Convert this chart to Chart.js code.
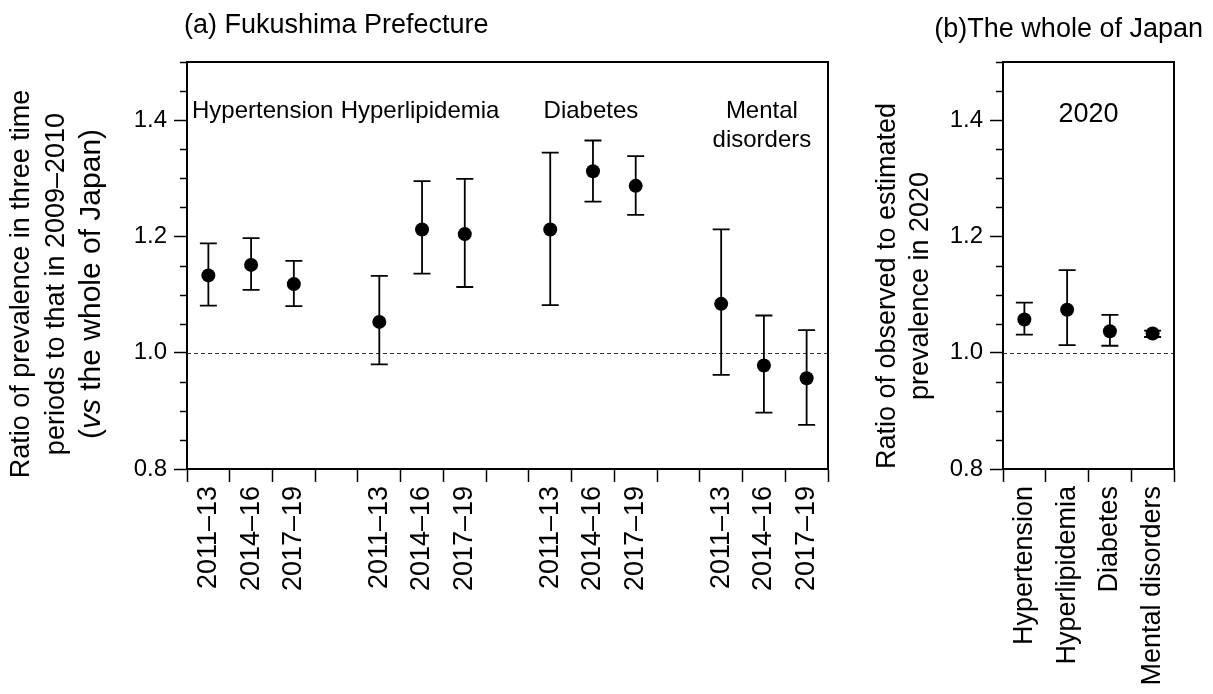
<!DOCTYPE html>
<html>
<head>
<meta charset="utf-8">
<script src="https://cdn.jsdelivr.net/npm/chart.js@4.4.1/dist/chart.umd.min.js"></script>
<style>
  html, body { margin: 0; padding: 0; background: #fff; }
  #wrap { position: relative; width: 1213px; height: 694px; overflow: hidden; }
  canvas { position: absolute; top: 0; }
  #chartA { left: 0; }
  #chartB { left: 860px; }
</style>
</head>
<body>
<div id="wrap">
  <canvas id="chartA" width="860" height="694"></canvas>
  <canvas id="chartB" width="353" height="694"></canvas>
</div>
<script>
const groups = ['Hypertension', 'Hyperlipidemia', 'Diabetes', 'Mental disorders']
const groupLabelLines = [['Hypertension'], ['Hyperlipidemia'], ['Diabetes'], ['Mental', 'disorders']]
const periods = ['2011–13', '2014–16', '2017–19']

// (a) Fukushima: ratio to 2009-2010 (vs whole of Japan), point + CI
const hypertension = [1.133, 1.151, 1.118]
const hypertensionLow = [1.081, 1.108, 1.080]
const hypertensionHigh = [1.188, 1.197, 1.158]

const hyperlipidemia = [1.053, 1.212, 1.204]
const hyperlipidemiaLow = [0.980, 1.136, 1.113]
const hyperlipidemiaHigh = [1.132, 1.295, 1.299]

const diabetes = [1.212, 1.312, 1.287]
const diabetesLow = [1.082, 1.260, 1.237]
const diabetesHigh = [1.344, 1.365, 1.338]

const mental = [1.084, 0.978, 0.956]
const mentalLow = [0.962, 0.897, 0.876]
const mentalHigh = [1.212, 1.064, 1.039]

// (b) whole of Japan: observed / estimated in 2020
const japan2020 = [1.057, 1.074, 1.037, 1.033]
const japan2020Low = [1.031, 1.013, 1.012, 1.027]
const japan2020High = [1.086, 1.142, 1.065, 1.038]

const yMajorTicks = [0.8, 1.0, 1.2, 1.4]
const yMin = 0.8, yMax = 1.5, yMinorStep = 0.05
const refValue = 1.0

// build the 15-slot category axis for panel (a), empty slot between groups
const seriesA = [
    [hypertension, hypertensionLow, hypertensionHigh],
    [hyperlipidemia, hyperlipidemiaLow, hyperlipidemiaHigh],
    [diabetes, diabetesLow, diabetesHigh],
    [mental, mentalLow, mentalHigh]
]
const labelsA = [], valuesA = [], lowA = [], highA = [], groupMid = []
seriesA.forEach(([v, lo, hi], g) => {
    if (g > 0) {
        labelsA.push(''); valuesA.push(null); lowA.push(null); highA.push(null)
    }
    groupMid.push(labelsA.length + 1)
    periods.forEach((p, i) => {
        labelsA.push(p); valuesA.push(v[i]); lowA.push(lo[i]); highA.push(hi[i])
    })
})

const FONT = "'Liberation Sans', Arial, Helvetica, sans-serif"
Chart.defaults.font.family = FONT
Chart.defaults.color = '#000'

const isMajor = v => yMajorTicks.some(t => Math.abs(t - v) < 1e-6)

function yScale(width) {
    return {
        min: yMin,
        max: yMax,
        afterFit: s => { s.width = width },
        afterBuildTicks: s => {
            const ticks = []
            for (let v = yMin; v <= yMax + 1e-9; v += yMinorStep) ticks.push({ value: Math.round(v * 100) / 100 })
            s.ticks = ticks
        },
        border: { display: true, color: '#000', width: 2 },
        grid: {
            drawOnChartArea: false,
            tickLength: 13,
            tickWidth: 1.5,
            tickColor: ctx => (ctx.tick && isMajor(ctx.tick.value)) ? '#000' : 'rgba(0,0,0,0)'
        },
        ticks: {
            padding: 7,
            autoSkip: false,
            font: { size: 24 },
            color: '#000',
            callback: v => isMajor(v) ? v.toFixed(1) : ''
        }
    }
}

function xScale() {
    return {
        offset: true,
        afterFit: s => { s.height = 225 },
        border: { display: true, color: '#000', width: 2 },
        grid: { offset: true, drawOnChartArea: false, tickLength: 13, tickWidth: 1.5, tickColor: '#000' },
        ticks: { autoSkip: false, minRotation: 90, maxRotation: 90, padding: 4, font: { size: 27 }, color: '#000' }
    }
}

// box, minor ticks and dashed reference line
const frame = {
    id: 'frame',
    beforeDatasetsDraw(chart) {
        const { ctx, chartArea: a, scales: { y } } = chart
        ctx.save()
        const yr = Math.round(y.getPixelForValue(refValue)) + 0.5
        ctx.setLineDash([4, 3])
        ctx.strokeStyle = '#333'
        ctx.lineWidth = 1
        ctx.beginPath(); ctx.moveTo(a.left, yr); ctx.lineTo(a.right, yr); ctx.stroke()
        ctx.restore()
    },
    afterDraw(chart) {
        const { ctx, chartArea: a, scales: { y } } = chart
        ctx.save()
        ctx.strokeStyle = '#000'
        ctx.lineWidth = 2
        ctx.strokeRect(a.left, a.top, a.right - a.left, a.bottom - a.top)
        ctx.lineWidth = 1.5
        y.ticks.forEach(t => {
            if (isMajor(t.value)) return
            const py = Math.round(y.getPixelForValue(t.value)) + 0.5
            ctx.beginPath(); ctx.moveTo(a.left - 7, py); ctx.lineTo(a.left, py); ctx.stroke()
        })
        ctx.restore()
    }
}

function errorBars(low, high) {
    return {
        id: 'errorBars',
        beforeDatasetsDraw(chart) {
            const { ctx, scales: { y } } = chart
            const meta = chart.getDatasetMeta(0)
            ctx.save()
            ctx.strokeStyle = '#000'
            ctx.lineWidth = 1.8
            meta.data.forEach((pt, i) => {
                if (low[i] == null) return
                const x = pt.x, y1 = y.getPixelForValue(low[i]), y2 = y.getPixelForValue(high[i])
                ctx.beginPath()
                ctx.moveTo(x, y1); ctx.lineTo(x, y2)
                ctx.moveTo(x - 8.5, y1); ctx.lineTo(x + 8.5, y1)
                ctx.moveTo(x - 8.5, y2); ctx.lineTo(x + 8.5, y2)
                ctx.stroke()
            })
            ctx.restore()
        }
    }
}

function drawVerticalTitle(ctx, lines, cy) {
    lines.forEach(line => {
        ctx.save()
        ctx.translate(line.x, cy)
        ctx.rotate(-Math.PI / 2)
        ctx.fillStyle = '#000'
        ctx.textAlign = 'left'
        ctx.textBaseline = 'alphabetic'
        const fontOf = p => (p.italic ? 'italic ' : '') + line.size + 'px ' + FONT
        let total = 0
        line.parts.forEach(p => { ctx.font = fontOf(p); total += ctx.measureText(p.text).width })
        let x = -total / 2
        line.parts.forEach(p => {
            ctx.font = fontOf(p)
            ctx.fillText(p.text, x, 0)
            x += ctx.measureText(p.text).width
        })
        ctx.restore()
    })
}

const textA = {
    id: 'textA',
    afterDraw(chart) {
        const { ctx, chartArea: a, scales: { x } } = chart
        ctx.save()
        ctx.fillStyle = '#000'
        ctx.font = '27px ' + FONT
        ctx.textAlign = 'left'
        ctx.textBaseline = 'alphabetic'
        ctx.fillText('(a) Fukushima Prefecture', 184, 33)

        ctx.font = '24px ' + FONT
        groupLabelLines.forEach((lines, g) => {
            lines.forEach((t, k) => {
                if (g === 0) {
                    ctx.textAlign = 'left'
                    ctx.fillText(t, a.left + 5, 118 + k * 29)
                } else {
                    ctx.textAlign = 'center'
                    ctx.fillText(t, x.getPixelForValue(groupMid[g]) - 2, 118 + k * 29)
                }
            })
        })
        ctx.restore()

        drawVerticalTitle(ctx, [
            { x: 29, size: 27, parts: [{ text: 'Ratio of prevalence in three time' }] },
            { x: 64, size: 27, parts: [{ text: 'periods to that in 2009–2010' }] },
            { x: 100, size: 30, parts: [{ text: '(' }, { text: 'vs', italic: true }, { text: ' the whole of Japan)' }] }
        ], 284)
    }
}

const textB = {
    id: 'textB',
    afterDraw(chart) {
        const { ctx, chartArea: a } = chart
        ctx.save()
        ctx.fillStyle = '#000'
        ctx.font = '27px ' + FONT
        ctx.textAlign = 'right'
        ctx.textBaseline = 'alphabetic'
        ctx.fillText('(b)The whole of Japan', 343, 37)
        ctx.textAlign = 'center'
        ctx.fillText('2020', (a.left + a.right) / 2, 122)
        ctx.restore()

        drawVerticalTitle(ctx, [
            { x: 35, size: 27, parts: [{ text: 'Ratio of observed to estimated' }] },
            { x: 68, size: 27, parts: [{ text: 'prevalence in 2020' }] }
        ], 286)
    }
}

function pointDataset(data) {
    return {
        data,
        showLine: false,
        pointRadius: 7,
        pointHoverRadius: 7,
        pointBackgroundColor: '#000',
        pointBorderColor: '#000',
        pointBorderWidth: 0,
        spanGaps: false
    }
}

function baseOptions(yWidth, rightPad) {
    return {
        responsive: false,
        animation: false,
        devicePixelRatio: 1,
        layout: { padding: { top: 62, right: rightPad, left: 0, bottom: 0 } },
        plugins: { legend: { display: false }, tooltip: { enabled: false }, title: { display: false } },
        scales: { x: xScale(), y: yScale(yWidth) }
    }
}

new Chart(document.getElementById('chartA'), {
    type: 'line',
    data: { labels: labelsA, datasets: [pointDataset(valuesA)] },
    options: baseOptions(187, 32),
    plugins: [frame, errorBars(lowA, highA), textA]
})

new Chart(document.getElementById('chartB'), {
    type: 'line',
    data: { labels: groups, datasets: [pointDataset(japan2020)] },
    options: baseOptions(143, 39),
    plugins: [frame, errorBars(japan2020Low, japan2020High), textB]
})
</script>
</body>
</html>
